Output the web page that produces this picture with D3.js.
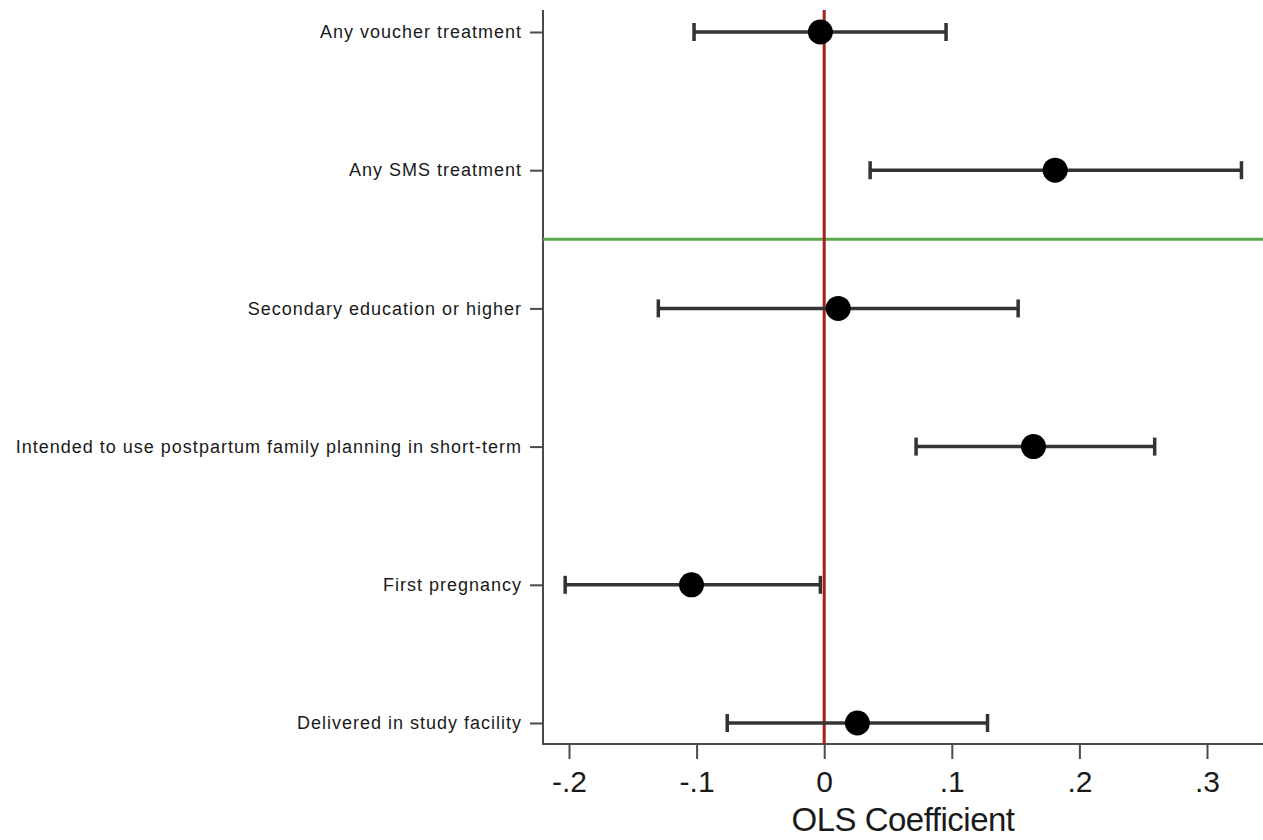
<!DOCTYPE html>
<html>
<head>
<meta charset="utf-8">
<script src="https://cdn.jsdelivr.net/npm/d3@7"></script>
<style>
  html, body { margin: 0; padding: 0; background: #fff; }
  svg { display: block; }
</style>
</head>
<body>
<svg id="chart" width="1263" height="840"></svg>
<script>
const categories = [
  "Any voucher treatment",
  "Any SMS treatment",
  "Secondary education or higher",
  "Intended to use postpartum family planning in short-term",
  "First pregnancy",
  "Delivered in study facility"
];
const coefficients = [-0.003, 0.181, 0.011, 0.164, -0.104, 0.026];
const ciLower = [-0.102, 0.036, -0.130, 0.072, -0.203, -0.076];
const ciUpper = [0.0955, 0.327, 0.152, 0.259, -0.003, 0.128];
const xTicks = [-0.2, -0.1, 0, 0.1, 0.2, 0.3];
const xTickLabels = ["-.2", "-.1", "0", ".1", ".2", ".3"];
const separatorAfter = 1; // green line between "Any SMS treatment" and next row

(function () {
const svg = d3.select("#chart");
const plotLeft = 543, plotRight = 1263, plotTop = 10, plotBottom = 744;

const x = d3.scaleLinear().domain([-0.2, 0.3]).range([569, 1207]);
const y = d3.scalePoint().domain(categories).range([32, 723]);

const axisColor = "#4a4a4a";
const font = "'Liberation Sans', Arial, Helvetica, sans-serif";

// y axis
const yAxis = d3.axisLeft(y).tickSize(13).tickPadding(8);
const gy = svg.append("g").attr("transform", `translate(${plotLeft},0)`).call(yAxis);
gy.select(".domain").remove();
gy.selectAll(".tick line").attr("stroke", axisColor).attr("stroke-width", 2);
gy.selectAll(".tick text")
  .attr("fill", "#1a1a1a")
  .style("font-family", font)
  .style("font-size", "18px")
  .style("letter-spacing", "1px");
svg.append("line")
  .attr("x1", plotLeft).attr("x2", plotLeft).attr("y1", plotTop).attr("y2", plotBottom + 1)
  .attr("stroke", axisColor).attr("stroke-width", 2);

// x axis
const xAxis = d3.axisBottom(x).tickValues(xTicks)
  .tickFormat((d, i) => xTickLabels[i]).tickSize(15).tickPadding(12);
const gx = svg.append("g").attr("transform", `translate(0,${plotBottom})`).call(xAxis);
gx.select(".domain").remove();
gx.selectAll(".tick line").attr("stroke", axisColor).attr("stroke-width", 2);
gx.selectAll(".tick text")
  .attr("fill", "#1a1a1a")
  .style("font-family", font)
  .style("font-size", "30px");
svg.append("line")
  .attr("x1", plotLeft - 1).attr("x2", plotRight).attr("y1", plotBottom).attr("y2", plotBottom)
  .attr("stroke", axisColor).attr("stroke-width", 2);

// axis title
svg.append("text")
  .attr("x", 903).attr("y", 831)
  .attr("text-anchor", "middle")
  .attr("fill", "#1a1a1a")
  .style("font-family", font)
  .style("font-size", "33px")
  .style("letter-spacing", "-0.5px")
  .text("OLS Coefficient");

// separator green line
const sepY = (y(categories[separatorAfter]) + y(categories[separatorAfter + 1])) / 2;
svg.append("line")
  .attr("x1", plotLeft).attr("x2", plotRight).attr("y1", sepY).attr("y2", sepY)
  .attr("stroke", "#5aa84a").attr("stroke-width", 3);

// zero reference line
svg.append("line")
  .attr("x1", x(0)).attr("x2", x(0)).attr("y1", plotTop).attr("y2", plotBottom)
  .attr("stroke", "#a3201c").attr("stroke-width", 3);

// confidence intervals
const rows = categories.map((c, i) => ({ c, b: coefficients[i], lo: ciLower[i], hi: ciUpper[i] }));
const ci = svg.append("g").attr("stroke", "#333").attr("stroke-width", 3.5);
ci.selectAll("line.ci").data(rows).join("line")
  .attr("class", "ci")
  .attr("x1", d => x(d.lo)).attr("x2", d => x(d.hi))
  .attr("y1", d => y(d.c)).attr("y2", d => y(d.c));
ci.selectAll("line.capl").data(rows).join("line")
  .attr("class", "capl")
  .attr("x1", d => x(d.lo)).attr("x2", d => x(d.lo))
  .attr("y1", d => y(d.c) - 9).attr("y2", d => y(d.c) + 9);
ci.selectAll("line.capr").data(rows).join("line")
  .attr("class", "capr")
  .attr("x1", d => x(d.hi)).attr("x2", d => x(d.hi))
  .attr("y1", d => y(d.c) - 9).attr("y2", d => y(d.c) + 9);

// points
svg.append("g").selectAll("circle").data(rows).join("circle")
  .attr("cx", d => x(d.b)).attr("cy", d => y(d.c)).attr("r", 12.5)
  .attr("fill", "#000");
})();
</script>
</body>
</html>
